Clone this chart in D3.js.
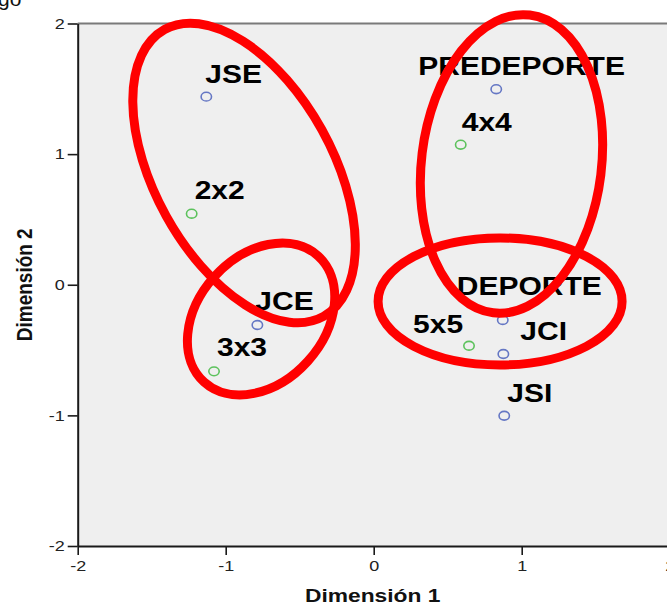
<!DOCTYPE html>
<html>
<head>
<meta charset="utf-8">
<script src="https://cdn.jsdelivr.net/npm/d3@7"></script>
<style>
  html, body { margin: 0; padding: 0; background: #ffffff; }
  svg { display: block; }
  text { font-family: "Liberation Sans", Arial, sans-serif; }
</style>
</head>
<body>
<svg id="chart" width="667" height="605"></svg>
<script>
// Category points (Dimensión 1, Dimensión 2)
const categoriaNames = ["JSE", "JCE", "PREDEPORTE", "DEPORTE", "JCI", "JSI"];
const categoriaDim1  = [-1.131, -0.786, 0.828, 0.872, 0.876, 0.882];
const categoriaDim2  = [ 1.440, -0.308, 1.497, -0.270, -0.530, -1.003];

const formatoNames = ["2x2", "3x3", "4x4", "5x5"];
const formatoDim1  = [-1.230, -1.079, 0.588, 0.644];
const formatoDim2  = [ 0.544, -0.663, 1.072, -0.467];

const tickValues = [-2, -1, 0, 1, 2];

// Label placement relative to each marker (pixels: start x, baseline y)
const labelOffset = {
  "JSE": [-1, -14], "JCE": [-2, -15], "PREDEPORTE": [-78, -14], "DEPORTE": [-46, -25],
  "JCI": [17, -14], "JSI": [3, -14],
  "2x2": [3, -15], "3x3": [3, -15], "4x4": [1, -14], "5x5": [-56, -13]
};

// Red grouping rings: centre in data units, radii in pixels, rotation in degrees
const ringCx  = [-0.876, -0.761, 0.931, 0.854];
const ringCy  = [ 0.856, -0.262, 0.925, -0.128];
const ringRx  = [164, 85, 150, 122];
const ringRy  = [ 89, 63, 90, 63.5];
const ringRot = [ 61, -48, -83, 0];

const svg = d3.select("#chart");
const plotLeft = 77.7, plotRight = 669.7, plotTop = 23.5, plotBottom = 546;
const stretch = 1.2;

const x = d3.scaleLinear().domain([-2, 2]).range([plotLeft, plotRight]);
const y = d3.scaleLinear().domain([-2, 2]).range([plotBottom, plotTop]);

// Clipped caption line above the chart
svg.append("text").attr("x", -2).attr("y", 6)
  .attr("font-size", 21).attr("fill", "#111").text("go");

// Plot background and frame
svg.append("rect").attr("x", plotLeft).attr("y", plotTop)
  .attr("width", plotRight - plotLeft + 10).attr("height", plotBottom - plotTop)
  .attr("fill", "#efefef");
svg.append("line").attr("x1", plotLeft).attr("x2", plotRight + 10)
  .attr("y1", plotTop).attr("y2", plotTop)
  .attr("stroke", "#7a7a7a").attr("stroke-width", 2);

// Axes (plain hyphen for negative tick labels)
const tickFmt = d => String(d);
const xAxis = svg.append("g").attr("transform", `translate(0,${plotBottom})`)
  .call(d3.axisBottom(x).tickValues(tickValues).tickFormat(tickFmt)
    .tickSize(9).tickPadding(5).tickSizeOuter(0));
const yAxis = svg.append("g").attr("transform", `translate(${plotLeft},0)`)
  .call(d3.axisLeft(y).tickValues(tickValues).tickFormat(tickFmt)
    .tickSize(10).tickPadding(3).tickSizeOuter(0));

[xAxis, yAxis].forEach(g => {
  g.select(".domain").attr("stroke", "#1a1a1a").attr("stroke-width", 2);
  g.selectAll(".tick line").attr("stroke", "#1a1a1a").attr("stroke-width", 1.6);
  g.selectAll(".tick text").attr("fill", "#222").attr("font-size", 15)
    .attr("font-family", "'Liberation Sans', Arial, sans-serif");
});
xAxis.selectAll(".tick text").attr("transform", `scale(${stretch},1)`);
yAxis.selectAll(".tick text").each(function () {
  const t = d3.select(this);
  const tx = +t.attr("x");
  t.attr("x", 0).attr("transform", `translate(${tx},0) scale(${stretch},1)`);
});

// Axis titles
svg.append("text")
  .attr("transform", `translate(${(plotLeft + plotRight) / 2 - 1},602) scale(${stretch},1)`)
  .attr("text-anchor", "middle").attr("font-size", 19).attr("font-weight", "bold")
  .attr("fill", "#111").text("Dimensión 1");
svg.append("text")
  .attr("transform", `translate(32,${y(0)}) scale(${stretch},1) rotate(-90)`)
  .attr("text-anchor", "middle").attr("font-size", 19).attr("font-weight", "bold")
  .attr("fill", "#111").text("Dimensión 2");

// Markers and labels for both series
const series = [
  { names: categoriaNames, d1: categoriaDim1, d2: categoriaDim2, color: "#6577c4" },
  { names: formatoNames,   d1: formatoDim1,   d2: formatoDim2,   color: "#5cc25c" }
];

series.forEach(s => {
  const pts = s.names.map((n, i) => ({ name: n, d1: s.d1[i], d2: s.d2[i] }));
  svg.append("g").selectAll("ellipse").data(pts).join("ellipse")
    .attr("cx", d => x(d.d1)).attr("cy", d => y(d.d2))
    .attr("rx", 5.2).attr("ry", 4.4)
    .attr("fill", "none").attr("stroke", s.color).attr("stroke-width", 1.6);
  svg.append("g").selectAll("text").data(pts).join("text")
    .attr("transform", d => {
      const o = labelOffset[d.name];
      return `translate(${x(d.d1) + o[0]},${y(d.d2) + o[1]}) scale(${stretch},1)`;
    })
    .attr("font-size", 25).attr("font-weight", "bold").attr("fill", "#000")
    .text(d => d.name);
});

// Red grouping rings drawn over everything
svg.append("g").selectAll("ellipse").data(ringCx.map((c, i) => i)).join("ellipse")
  .attr("transform", i => `translate(${x(ringCx[i])},${y(ringCy[i])}) rotate(${ringRot[i]})`)
  .attr("rx", i => ringRx[i]).attr("ry", i => ringRy[i])
  .attr("fill", "none").attr("stroke", "#ff0000").attr("stroke-width", 9);
</script>
</body>
</html>
